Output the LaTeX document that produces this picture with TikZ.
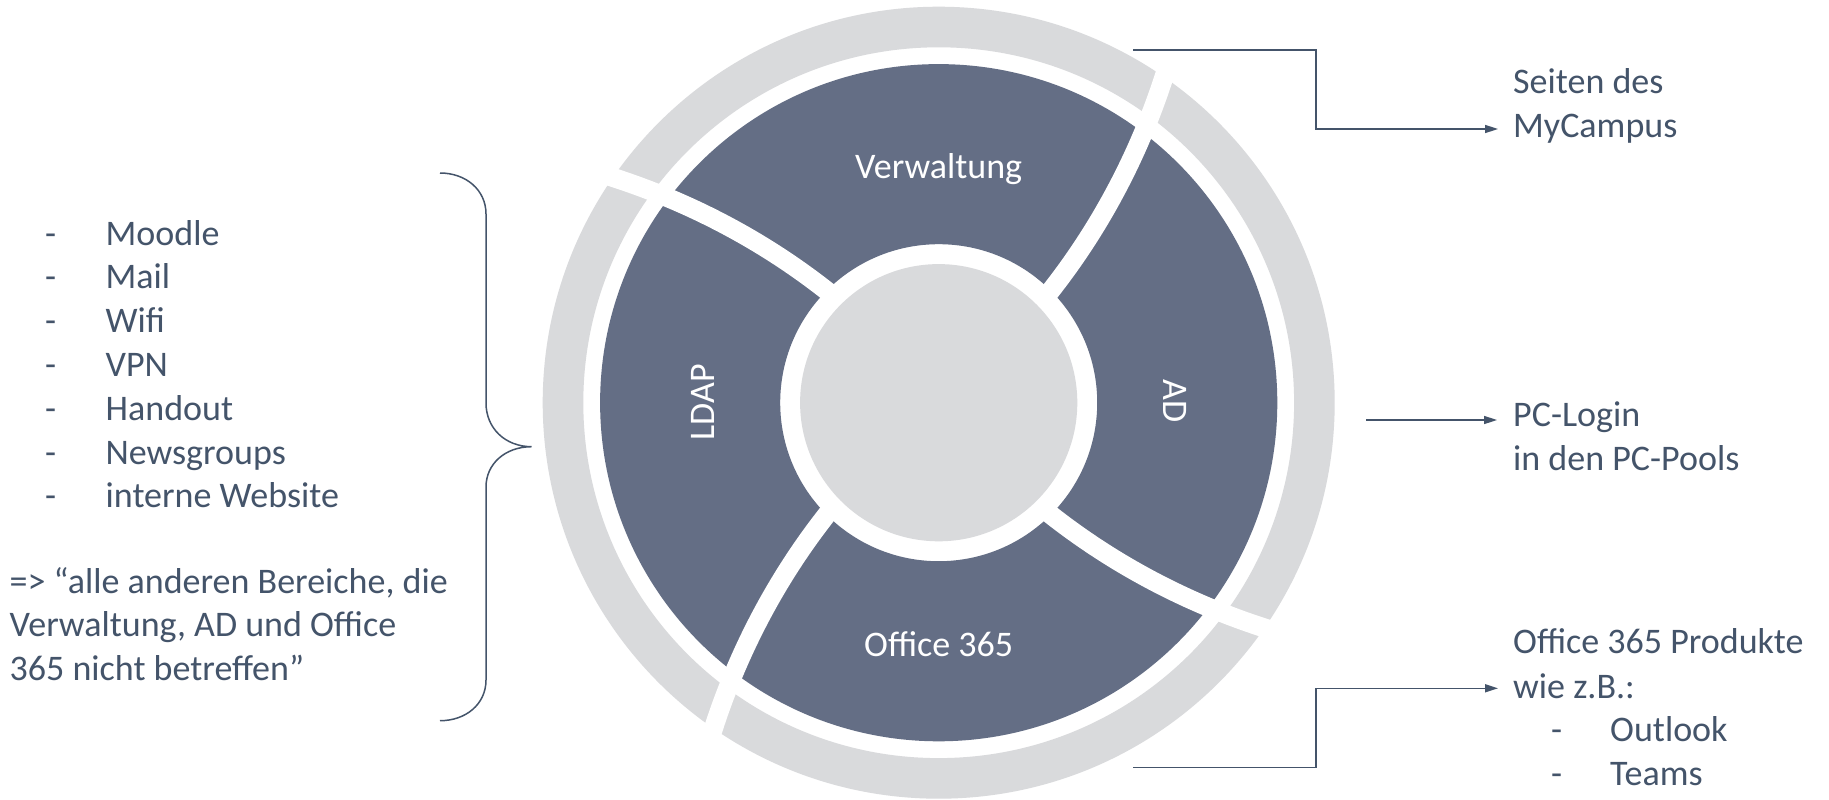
\documentclass[tikz,border=0pt]{standalone}
\usepackage{fontspec}
\setmainfont{Carlito}
\usetikzlibrary{arrows.meta}
\definecolor{seg}{HTML}{646E85}
\definecolor{ringgray}{HTML}{D9DADC}
\definecolor{txt}{HTML}{44546A}
\begin{document}
\begin{tikzpicture}[x=1pt,y=-1pt,
  lbl/.style={text=white, inner sep=0pt, font=\fontsize{36}{43.8}\selectfont},
  body/.style={text=txt, inner sep=0pt, anchor=base west, font=\fontsize{36}{43.8}\selectfont},
  conn/.style={draw=txt, line width=1.5pt},
  arr/.style={conn, -{Triangle[length=13pt,width=8pt]}},
  sepline/.style={draw=white, line width=19pt}]
\useasboundingbox (0,0) rectangle (1829,800);
\fill[white] (0,0) rectangle (1829,800);
\coordinate (c) at (938.7,402.7);
% rings
\fill[ringgray, even odd rule] (c) circle[radius=396] (c) circle[radius=355.4];
\fill[seg, even odd rule] (c) circle[radius=338.6] (c) circle[radius=158.5];
\foreach \a in {-45,-135,-225,-315} {
  \draw[sepline, shift={(c)}] plot[domain=140:412, samples=60] ({\a-0.0435*(\x-158.5)}:{\x});
}
\fill[ringgray] (c) circle[radius=138.6];
% segment labels
\node[lbl, anchor=base] (verw) at (938.7,178.3) {Verwaltung};
\node[lbl, anchor=base] (o365) at (938.7,656) {Office 365};
\node[lbl, rotate=90] (ldap) at (702.5,402.5) {LDAP};
\node[lbl, rotate=-90] (ad) at (1175,401) {AD};
% left list
\node[body] (d1) at (45,245) {-};   \node[body] (t1) at (105.5,245) {Moodle};
\node[body] (d2) at (45,288.8) {-}; \node[body] (t2) at (105.5,288.8) {Mail};
\node[body] (d3) at (45,332.6) {-}; \node[body] (t3) at (105.5,332.6) {Wifi};
\node[body] (d4) at (45,376.4) {-}; \node[body] (t4) at (105.5,376.4) {VPN};
\node[body] (d5) at (45,420.2) {-}; \node[body] (t5) at (105.5,420.2) {Handout};
\node[body] (d6) at (45,464) {-};   \node[body] (t6) at (105.5,464) {Newsgroups};
\node[body] (d7) at (45,507.8) {-}; \node[body] (t7) at (105.5,507.8) {interne Website};
\node[body] (p1) at (9.5,593.3) {=> “alle anderen Bereiche, die};
\node[body] (p2) at (9.5,636.9) {Verwaltung, AD und Office};
\node[body] (p3) at (9.5,680.5) {365 nicht betreffen”};
% brace
\draw[conn] (440,173) .. controls (466,173) and (486,190) .. (486,214) -- (486,403)
  .. controls (486,428) and (505,446.7) .. (531.7,446.7)
  .. controls (505,446.7) and (486,464) .. (486,487) -- (486,680)
  .. controls (486,704) and (466,720.7) .. (440,720.7);
% right texts
\node[body] (s1) at (1513,93.3) {Seiten des};
\node[body] (s2) at (1513,137.7) {MyCampus};
\node[body] (pc1) at (1513,426.7) {PC-Login};
\node[body] (pc2) at (1513,470.7) {in den PC-Pools};
\node[body] (of1) at (1513,653.3) {Office 365 Produkte};
\node[body] (of2) at (1513,698.3) {wie z.B.:};
\node[body] (od1) at (1551,741.7) {-}; \node[body] (ol) at (1610,741.7) {Outlook};
\node[body] (od2) at (1551,785) {-};   \node[body] (tm) at (1610,785) {Teams};
% connectors
\coordinate (a1s) at (1133.3,50);   \coordinate (a1k) at (1316,90);  \coordinate (a1e) at (1498,129);
\coordinate (a2s) at (1366,420);    \coordinate (a2e) at (1497,420);
\coordinate (a3s) at (1133.3,767.5); \coordinate (a3k) at (1316,720); \coordinate (a3e) at (1498,688.3);
\draw[arr] (a1s) -| (a1k) |- (a1e);
\draw[arr] (a2s) -- (a2e);
\draw[arr] (a3s) -| (a3k) |- (a3e);
\end{tikzpicture}
\end{document}
